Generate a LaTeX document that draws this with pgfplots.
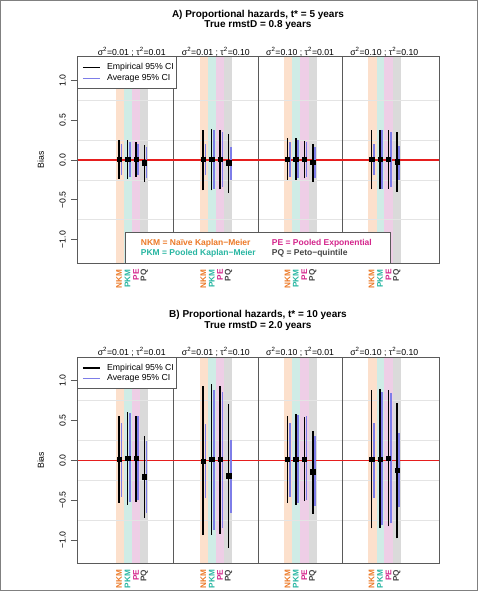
\documentclass[border=0pt]{standalone}
\usepackage{pgfplots}
\pgfplotsset{compat=1.18}
\usepackage{pgfplotstable}
\usepackage{fontspec}
\setmainfont{Liberation Sans}

\definecolor{nkmtxt}{RGB}{236,122,40}
\definecolor{pkmtxt}{RGB}{40,182,162}
\definecolor{petxt}{RGB}{212,38,140}
\definecolor{pqtxt}{RGB}{70,70,70}
\definecolor{nkmband}{RGB}{252,224,204}
\definecolor{pkmband}{RGB}{207,236,230}
\definecolor{peband}{RGB}{238,206,230}
\definecolor{pqband}{RGB}{218,218,218}
\definecolor{avgblue}{RGB}{125,125,232}
\definecolor{boxc}{RGB}{90,90,90}
\definecolor{gridc}{RGB}{228,228,228}
\definecolor{zeroc}{RGB}{230,30,30}

\newcommand\lbl{\fontsize{8.7}{10}\selectfont}
\newcommand\ttl{\bfseries\fontsize{10}{12}\selectfont}

% x est elo ehi alo ahi
\pgfplotstableread{
x    est    elo    ehi    alo    ahi
0.85 0.012 -0.233 0.246 -0.19 0.20
0.95 0.012 -0.233 0.254 -0.21 0.23
1.05 0.012 -0.21  0.225 -0.19 0.20
1.15 -0.035 -0.27 0.19  -0.23 0.16
1.85 0.010 -0.38  0.38  -0.19 0.20
1.95 0.010 -0.38  0.39  -0.36 0.37
2.05 0.010 -0.37  0.38  -0.34 0.35
2.15 -0.035 -0.41 0.33  -0.25 0.16
2.85 0.010 -0.25  0.275 -0.21 0.22
2.95 0.010 -0.25  0.27  -0.23 0.245
3.05 0.010 -0.23  0.24  -0.21 0.22
3.15 -0.030 -0.27 0.20  -0.23 0.16
3.85 0.010 -0.37  0.38  -0.19 0.20
3.95 0.010 -0.37  0.38  -0.36 0.37
4.05 0.010 -0.36  0.37  -0.34 0.35
4.15 -0.020 -0.40 0.35  -0.25 0.18
}\dataA

\pgfplotstableread{
x    est    elo    ehi    alo    ahi
0.85 0.012 -0.53  0.556 -0.46 0.47
0.95 0.025 -0.56  0.60  -0.52 0.59
1.05 0.025 -0.52  0.56  -0.50 0.555
1.15 -0.205 -0.72 0.30  -0.655 0.245
1.85 -0.010 -0.94 0.93  -0.476 0.455
1.95 0.017 -0.935 0.956 -0.87 0.88
2.05 0.017 -0.92  0.93  -0.85 0.86
2.15 -0.195 -1.095 0.71 -0.657 0.26
2.85 0.017 -0.53  0.556 -0.46 0.47
2.95 0.017 -0.56  0.576 -0.53 0.57
3.05 0.017 -0.51  0.547 -0.50 0.555
3.15 -0.145 -0.67 0.365 -0.57 0.305
3.85 0.017 -0.853 0.88 -0.47 0.47
3.95 0.017 -0.85  0.89  -0.81 0.86
4.05 0.025 -0.83  0.88  -0.79 0.85
4.15 -0.125 -0.98 0.72  -0.59 0.34
}\dataB

\newcommand\drawbands[2]{%
  \pgfplotsinvokeforeach{0,1,2,3}{%
    \fill[nkmband] (axis cs:##1.81,#1) rectangle (axis cs:##1.908,#2);
    \fill[pkmband] (axis cs:##1.908,#1) rectangle (axis cs:##1.9999,#2);
  }
  \pgfplotsinvokeforeach{1,2,3,4}{%
    \fill[peband] (axis cs:##1.0,#1) rectangle (axis cs:##1.102,#2);
    \fill[pqband] (axis cs:##1.102,#1) rectangle (axis cs:##1.197,#2);
  }
}

\newcommand\drawpanel[3]{% #1 data, #2 ymin, #3 ymax
  \drawbands{#2}{#3}
  \addplot[gridc, line width=0.8pt, forget plot] coordinates {(0.35,0.75) (4.65,0.75)};
  \addplot[gridc, line width=0.8pt, forget plot] coordinates {(0.35,0.25) (4.65,0.25)};
  \addplot[gridc, line width=0.8pt, forget plot] coordinates {(0.35,-0.25) (4.65,-0.25)};
  \addplot[gridc, line width=0.8pt, forget plot] coordinates {(0.35,-0.75) (4.65,-0.75)};
  \addplot[boxc, line width=0.8pt, forget plot] coordinates {(1.5,#2) (1.5,#3)};
  \addplot[boxc, line width=0.8pt, forget plot] coordinates {(2.5,#2) (2.5,#3)};
  \addplot[boxc, line width=0.8pt, forget plot] coordinates {(3.5,#2) (3.5,#3)};
  \addplot[zeroc, line width=1.1pt, forget plot] coordinates {(0.35,0) (4.65,0)};
  \addplot[forget plot, draw=none, mark=none,
    error bars/.cd, y dir=plus, y explicit, error mark=none,
    error bar style={draw=avgblue, solid, line width=1.7pt}]
    table[x expr=\thisrow{x}+0.027, y=alo, y error expr=\thisrow{ahi}-\thisrow{alo}] {#1};
  \addplot[forget plot, draw=none, mark=none,
    error bars/.cd, y dir=plus, y explicit, error mark=none,
    error bar style={draw=black, solid, line width=1.6pt}]
    table[x=x, y=elo, y error expr=\thisrow{ehi}-\thisrow{elo}] {#1};
  \addplot[forget plot, only marks, mark=square*, mark size=2.2pt, black]
    table[x=x, y=est] {#1};
  \node[font=\lbl] at (axis cs:1,1.36) {σ\textsuperscript{2}=0.01 ; τ\textsuperscript{2}=0.01};
  \node[font=\lbl] at (axis cs:2,1.36) {σ\textsuperscript{2}=0.01 ; τ\textsuperscript{2}=0.10};
  \node[font=\lbl] at (axis cs:3,1.36) {σ\textsuperscript{2}=0.10 ; τ\textsuperscript{2}=0.01};
  \node[font=\lbl] at (axis cs:4,1.36) {σ\textsuperscript{2}=0.10 ; τ\textsuperscript{2}=0.10};
  \node[font=\lbl, rotate=90] at ([xshift=-36.3pt]axis cs:0.35,0) {Bias};
  % top-left legend
  \draw[boxc, fill=white, line width=0.8pt] (axis cs:0.35,0.898) rectangle (axis cs:1.534,1.296);
  \draw[black, line width=1.5pt] (axis cs:0.421,1.158) -- (axis cs:0.623,1.158);
  \draw[avgblue, line width=1.5pt] (axis cs:0.421,1.024) -- (axis cs:0.623,1.024);
  \node[font=\lbl, anchor=west, inner sep=0pt] at (axis cs:0.706,1.158) {Empirical 95\% CI};
  \node[font=\lbl, anchor=west, inner sep=0pt] at (axis cs:0.706,1.024) {Average 95\% CI};
}

\pgfplotsset{
  panel/.style={
    scale only axis, width=362pt, height=206.6pt,
    xmin=0.35, xmax=4.65, ymin=-1.296, ymax=1.296, clip=false,
    axis on top,
    axis line style={draw=boxc, line width=0.8pt},
    xtick={0.85,0.95,1.05,1.15,1.85,1.95,2.05,2.15,2.85,2.95,3.05,3.15,3.85,3.95,4.05,4.15},
    xticklabels={\textcolor{nkmtxt}{NKM},\textcolor{pkmtxt}{PKM},\textcolor{petxt}{PE},\textcolor{pqtxt}{PQ},
                 \textcolor{nkmtxt}{NKM},\textcolor{pkmtxt}{PKM},\textcolor{petxt}{PE},\textcolor{pqtxt}{PQ},
                 \textcolor{nkmtxt}{NKM},\textcolor{pkmtxt}{PKM},\textcolor{petxt}{PE},\textcolor{pqtxt}{PQ},
                 \textcolor{nkmtxt}{NKM},\textcolor{pkmtxt}{PKM},\textcolor{petxt}{PE},\textcolor{pqtxt}{PQ}},
    xtick style={draw=none},
    xticklabel style={rotate=90, anchor=east, font=\bfseries\fontsize{8.2}{9}\selectfont, inner sep=0pt},
    ytick={-1,-0.5,0,0.5,1},
    yticklabels={−1.0,−0.5,0.0,0.5,1.0},
    ytick pos=left,
    ytick style={draw=boxc, line width=0.8pt},
    tick align=outside, major tick length=6pt,
    yticklabel style={xshift=-4pt, rotate=90, anchor=south, font=\lbl, inner sep=1pt},
  }
}

\begin{document}
\begin{tikzpicture}[x=1pt,y=1pt]
\useasboundingbox (0,0) rectangle (478,591);
\fill[white] (0,0) rectangle (478,591);

% Panel A
\begin{axis}[panel, at={(77pt,327.7pt)}, anchor=south west]
  \drawpanel{\dataA}{-1.296}{1.296}
  \node[font=\ttl] at (axis cs:2.5,1.82) {A) Proportional hazards, t* = 5 years};
  \node[font=\ttl] at (axis cs:2.5,1.69) {True rmstD = 0.8 years};
  % bottom legend
  \draw[boxc, fill=white, line width=0.8pt] (axis cs:0.92,-1.296) rectangle (axis cs:4.07,-0.904);
  \node[font=\bfseries\fontsize{8.5}{10}\selectfont, anchor=west, inner sep=0pt, text=nkmtxt] at (axis cs:1.107,-1.041) {NKM = Naïve Kaplan−Meier};
  \node[font=\bfseries\fontsize{8.5}{10}\selectfont, anchor=west, inner sep=0pt, text=pkmtxt] at (axis cs:1.107,-1.166) {PKM = Pooled Kaplan−Meier};
  \node[font=\bfseries\fontsize{8.5}{10}\selectfont, anchor=west, inner sep=0pt, text=petxt] at (axis cs:2.663,-1.041) {PE = Pooled Exponential};
  \node[font=\bfseries\fontsize{8.5}{10}\selectfont, anchor=west, inner sep=0pt, text=pqtxt] at (axis cs:2.663,-1.166) {PQ = Peto−quintile};
\end{axis}

% Panel B
\begin{axis}[panel, at={(77pt,27.4pt)}, anchor=south west]
  \drawpanel{\dataB}{-1.296}{1.296}
  \node[font=\ttl] at (axis cs:2.5,1.82) {B) Proportional hazards, t* = 10 years};
  \node[font=\ttl] at (axis cs:2.5,1.69) {True rmstD = 2.0 years};
\end{axis}

\draw[gray, line width=0.8pt] (0.4,0.4) rectangle (477.6,590.6);
\end{tikzpicture}
\end{document}
